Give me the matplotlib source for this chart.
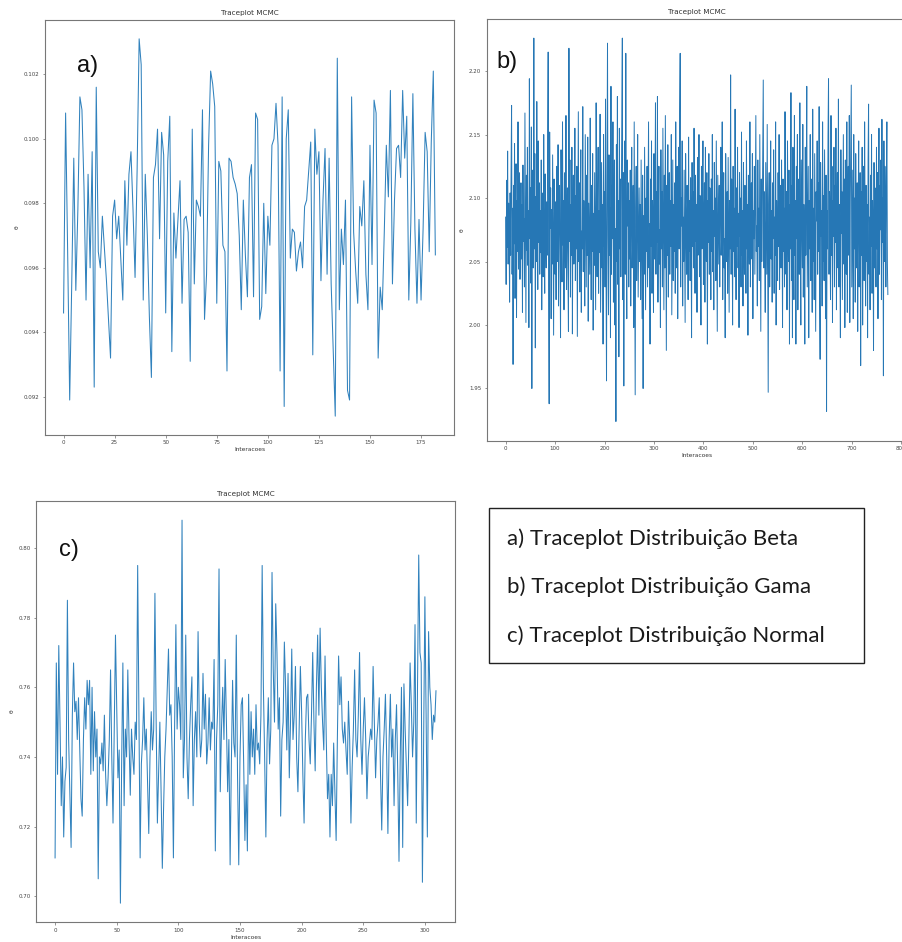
import matplotlib
matplotlib.use("Agg")
import matplotlib.pyplot as plt
from matplotlib.patches import Rectangle

# Beta chain (183 iterations)
beta_chain = [
    0.0946, 0.1008, 0.0965, 0.0919, 0.0955, 0.0994, 0.0953, 0.0978, 0.1013, 0.1009,
    0.0985, 0.0950, 0.0989, 0.0960, 0.0996, 0.0923, 0.1016, 0.0965, 0.0960, 0.0976,
    0.0966, 0.0956, 0.0944, 0.0932, 0.0976, 0.0981, 0.0969, 0.0976, 0.0963, 0.0950,
    0.0987, 0.0967, 0.0989, 0.0996, 0.0978, 0.0957, 0.0990, 0.1031, 0.1023, 0.0950,
    0.0989, 0.0970, 0.0945, 0.0926, 0.0988, 0.0992, 0.1003, 0.0969, 0.1002, 0.0995,
    0.0946, 0.0993, 0.1007, 0.0934, 0.0977, 0.0963, 0.0975, 0.0987, 0.0949, 0.0975,
    0.0976, 0.0971, 0.0931, 0.1003, 0.0955, 0.0981, 0.0979, 0.0976, 0.1009, 0.0944,
    0.0958, 0.0998, 0.1021, 0.1017, 0.1010, 0.0949, 0.0993, 0.0990, 0.0967, 0.0965,
    0.0928, 0.0994, 0.0993, 0.0988, 0.0986, 0.0983, 0.0970, 0.0947, 0.0981, 0.0964,
    0.0951, 0.0988, 0.0992, 0.0951, 0.1008, 0.1006, 0.0944, 0.0948, 0.0980, 0.0952,
    0.0976, 0.0967, 0.0998, 0.1000, 0.1011, 0.0998, 0.0928, 0.1013, 0.0917, 0.1000,
    0.1009, 0.0963, 0.0972, 0.0971, 0.0959, 0.0965, 0.0968, 0.0960, 0.0979, 0.0981,
    0.0990, 0.0999, 0.0933, 0.1003, 0.0989, 0.0996, 0.0956, 0.0981, 0.0997, 0.0958,
    0.0994, 0.0955, 0.0935, 0.0914, 0.1025, 0.0947, 0.0972, 0.0961, 0.0981, 0.0922,
    0.0919, 0.1013, 0.0971, 0.0959, 0.0949, 0.0979, 0.0973, 0.0987, 0.0958, 0.0947,
    0.0998, 0.0961, 0.1012, 0.1008, 0.0932, 0.0954, 0.0947, 0.0971, 0.0998, 0.0982,
    0.1015, 0.0955, 0.0981, 0.0997, 0.0998, 0.0988, 0.1015, 0.0994, 0.1007, 0.0950,
    0.0974, 0.1014, 0.0972, 0.0949, 0.0975, 0.0950, 0.0972, 0.1002, 0.0996, 0.0965,
    0.0999, 0.1021, 0.0964,
]

# Gamma chain (774 iterations)
gamma_chain = [
    2.085, 2.032, 2.114, 2.061, 2.137, 2.048, 2.096, 2.072, 2.018, 2.104, 2.055, 2.123, 2.173, 2.040, 2.092, 1.969, 2.110, 2.064,
    2.143, 2.021, 2.088, 2.127, 2.006, 2.098, 2.058, 2.160, 2.044, 2.081, 2.120, 2.036, 2.070, 2.112, 2.052, 2.095, 2.010, 2.126,
    2.066, 2.084, 2.030, 2.167, 2.075, 2.002, 2.118, 2.059, 2.140, 2.047, 2.090, 1.998, 2.194, 2.068, 2.108, 2.033, 2.156, 1.950,
    2.122, 2.076, 2.045, 2.226, 2.060, 2.135, 1.982, 2.101, 2.050, 2.176, 2.078, 2.028, 2.145, 2.065, 2.112, 2.040, 2.090, 2.057,
    2.130, 2.012, 2.086, 2.104, 2.038, 2.150, 2.068, 2.025, 2.119, 2.074, 2.045, 2.097, 2.055, 2.148, 2.215, 2.030, 1.938, 2.152,
    2.076, 2.108, 2.005, 2.091, 2.048, 2.134, 2.062, 1.992, 2.115, 2.083, 2.040, 2.097, 2.020, 2.125, 2.070, 2.050, 2.142, 2.015,
    2.088, 2.110, 2.058, 1.990, 2.138, 2.072, 2.034, 2.160, 2.063, 2.098, 2.012, 2.120, 2.082, 2.045, 2.165, 2.028, 2.075, 2.108,
    2.040, 1.995, 2.218, 2.066, 2.130, 2.022, 2.095, 2.055, 2.140, 1.993, 2.086, 2.118, 2.048, 2.070, 2.155, 2.035, 2.102, 2.060,
    2.125, 1.991, 2.080, 2.168, 2.050, 2.112, 2.026, 2.092, 2.138, 2.010, 2.074, 2.060, 2.172, 2.042, 2.098, 2.066, 2.015, 2.150,
    2.085, 2.030, 2.118, 2.055, 2.148, 2.003, 2.096, 2.070, 2.040, 2.163, 2.078, 2.020, 2.110, 2.058, 2.135, 1.996, 2.088, 2.047,
    2.120, 2.065, 2.012, 2.175, 2.082, 2.038, 2.100, 2.140, 2.025, 2.090, 2.057, 2.166, 2.010, 2.072, 2.128, 2.045, 2.095, 1.985,
    2.150, 2.062, 2.105, 2.030, 2.178, 2.045, 1.956, 2.118, 2.222, 2.070, 2.008, 2.134, 2.055, 2.092, 1.990, 2.188, 2.040, 2.110,
    2.068, 2.160, 2.018, 2.085, 2.130, 2.000, 2.076, 1.924, 2.142, 2.050, 2.180, 2.032, 2.098, 1.975, 2.155, 2.060, 2.115, 2.038,
    2.092, 2.170, 2.226, 2.020, 2.120, 1.952, 2.085, 2.145, 2.040, 2.214, 2.065, 2.005, 2.130, 2.078, 2.112, 2.030, 2.098, 2.052,
    2.122, 2.015, 2.088, 2.140, 2.045, 2.072, 2.110, 1.998, 2.160, 2.060, 1.945, 2.092, 2.125, 2.035, 2.080, 2.150, 2.022, 2.070,
    2.108, 2.050, 2.095, 2.020, 2.130, 2.064, 2.005, 2.118, 1.950, 2.086, 2.040, 2.140, 2.075, 2.012, 2.100, 2.058, 2.125, 2.030,
    2.090, 2.160, 2.045, 2.080, 1.985, 2.115, 2.062, 2.145, 2.025, 2.098, 2.070, 2.010, 2.135, 2.052, 2.088, 2.175, 2.040, 2.105,
    2.065, 2.180, 2.018, 2.092, 2.125, 2.048, 2.075, 1.998, 2.138, 2.060, 2.105, 2.030, 2.155, 2.082, 2.012, 2.118, 2.045, 2.165,
    2.070, 1.980, 2.110, 2.055, 2.142, 2.022, 2.088, 2.120, 2.040, 2.098, 2.062, 2.150, 2.008, 2.076, 2.130, 2.035, 2.095, 2.058,
    2.112, 2.025, 2.160, 2.070, 2.045, 2.125, 2.005, 2.090, 2.140, 2.060, 2.168, 2.214, 2.030, 2.100, 2.078, 2.145, 2.015, 2.085,
    2.050, 2.122, 2.068, 2.002, 2.135, 2.076, 2.040, 2.110, 2.090, 2.020, 2.148, 2.058, 2.098, 2.035, 2.116, 2.072, 1.990, 2.128,
    2.062, 2.105, 2.045, 2.155, 2.080, 2.025, 2.118, 2.066, 2.095, 2.010, 2.132, 2.055, 2.088, 2.150, 2.038, 2.102, 2.070, 2.000,
    2.125, 2.060, 2.092, 2.145, 2.032, 2.085, 2.112, 2.018, 2.140, 2.074, 2.050, 2.120, 1.985, 2.098, 2.065, 2.135, 2.040, 2.108,
    2.078, 2.020, 2.115, 2.058, 2.150, 2.042, 2.090, 2.012, 2.128, 2.070, 2.100, 2.035, 2.145, 2.062, 1.995, 2.118, 2.082, 2.048,
    2.110, 2.030, 2.095, 2.140, 2.055, 2.075, 2.160, 2.020, 2.088, 2.120, 2.045, 2.068, 1.990, 2.135, 2.080, 2.050, 2.105, 2.025,
    2.132, 2.070, 2.010, 2.098, 2.060, 2.197, 2.040, 2.115, 2.082, 2.000, 2.125, 2.058, 2.092, 2.038, 2.170, 2.075, 2.020, 2.108,
    2.062, 2.140, 2.045, 2.088, 1.998, 2.120, 2.070, 2.100, 2.030, 2.152, 2.055, 2.090, 2.015, 2.128, 2.068, 2.040, 2.110, 2.080,
    2.025, 2.145, 2.060, 2.095, 1.992, 2.118, 2.075, 2.048, 2.160, 2.030, 2.085, 2.112, 2.052, 2.135, 2.005, 2.090, 2.068, 2.125,
    2.040, 2.100, 2.165, 2.058, 2.078, 2.015, 2.130, 2.062, 2.092, 2.035, 2.150, 2.070, 1.995, 2.115, 2.050, 2.082, 2.140, 2.193,
    2.045, 2.105, 2.065, 2.010, 2.128, 2.080, 2.040, 2.158, 2.060, 1.947, 2.095, 2.120, 2.030, 2.075, 2.145, 2.052, 2.090, 2.018,
    2.112, 2.068, 2.138, 2.025, 2.085, 2.055, 2.160, 2.000, 2.098, 2.072, 2.035, 2.120, 2.062, 2.150, 2.028, 2.088, 2.110, 2.045,
    2.130, 2.075, 1.998, 2.115, 2.058, 2.092, 2.030, 2.168, 2.070, 2.040, 2.105, 2.012, 2.145, 2.080, 2.050, 2.122, 1.985, 2.095,
    2.060, 2.183, 2.035, 2.110, 1.990, 2.140, 2.072, 2.020, 2.165, 2.055, 2.098, 1.985, 2.125, 2.068, 2.150, 2.012, 2.088, 2.115,
    2.040, 2.175, 2.062, 2.000, 2.130, 2.085, 2.045, 2.158, 2.022, 2.095, 2.070, 1.985, 2.140, 2.055, 2.110, 2.188, 2.030, 2.080,
    2.125, 1.990, 2.098, 2.060, 2.150, 2.035, 2.115, 2.075, 2.010, 2.170, 2.050, 2.092, 2.020, 2.135, 2.068, 1.995, 2.105, 2.082,
    2.145, 2.040, 2.112, 2.058, 2.172, 2.025, 1.973, 2.128, 2.070, 2.090, 2.015, 2.160, 2.050, 2.102, 2.035, 2.138, 2.078, 2.005,
    2.118, 1.932, 2.090, 2.060, 2.150, 2.194, 2.040, 2.105, 2.075, 2.020, 2.165, 2.055, 2.125, 2.002, 2.098, 2.070, 2.140, 2.030,
    2.110, 2.065, 2.155, 2.012, 2.088, 2.120, 2.045, 2.178, 2.030, 2.095, 2.060, 1.990, 2.138, 2.072, 2.105, 2.020, 2.085, 2.150,
    2.048, 2.115, 1.998, 2.130, 2.070, 2.040, 2.160, 2.010, 2.092, 2.125, 2.055, 2.165, 2.002, 2.098, 2.140, 2.189, 2.030, 2.080,
    2.122, 2.005, 2.150, 2.060, 2.100, 2.018, 2.135, 2.075, 2.045, 2.112, 1.995, 2.090, 2.145, 2.030, 2.068, 2.120, 1.968, 2.105,
    2.055, 2.140, 2.000, 2.088, 2.125, 2.035, 2.160, 2.070, 2.015, 2.110, 2.050, 2.095, 1.990, 2.130, 2.174, 2.040, 2.085, 2.012,
    2.118, 2.062, 2.150, 2.025, 2.098, 2.070, 1.980, 2.128, 2.045, 2.108, 2.080, 2.030, 2.140, 2.060, 2.120, 2.005, 2.092, 2.155,
    2.040, 2.110, 2.075, 2.130, 2.020, 2.162, 2.065, 2.100, 1.960, 2.145, 2.050, 2.125, 2.085, 2.030, 2.115, 2.160, 2.048, 2.024,
]

# Normal chain (310 iterations)
normal_chain = [
    0.711, 0.767, 0.735, 0.772, 0.750, 0.726, 0.740, 0.717, 0.733, 0.737,
    0.785, 0.745, 0.730, 0.714, 0.752, 0.767, 0.753, 0.756, 0.745, 0.757,
    0.742, 0.728, 0.723, 0.745, 0.757, 0.748, 0.762, 0.755, 0.762, 0.735,
    0.760, 0.736, 0.753, 0.740, 0.748, 0.705, 0.740, 0.738, 0.744, 0.736,
    0.752, 0.735, 0.726, 0.734, 0.745, 0.765, 0.740, 0.721, 0.748, 0.775,
    0.755, 0.734, 0.742, 0.698, 0.738, 0.767, 0.726, 0.748, 0.740, 0.765,
    0.745, 0.729, 0.748, 0.740, 0.735, 0.750, 0.745, 0.795, 0.752, 0.711,
    0.738, 0.745, 0.757, 0.742, 0.748, 0.733, 0.718, 0.740, 0.753, 0.742,
    0.748, 0.787, 0.750, 0.721, 0.735, 0.750, 0.730, 0.708, 0.725, 0.740,
    0.748, 0.760, 0.771, 0.752, 0.755, 0.740, 0.711, 0.750, 0.778, 0.748,
    0.760, 0.755, 0.745, 0.808, 0.734, 0.745, 0.775, 0.740, 0.728, 0.745,
    0.755, 0.763, 0.726, 0.745, 0.753, 0.740, 0.776, 0.750, 0.740, 0.745,
    0.764, 0.748, 0.758, 0.738, 0.744, 0.757, 0.742, 0.750, 0.748, 0.768,
    0.713, 0.745, 0.755, 0.794, 0.730, 0.748, 0.760, 0.745, 0.768, 0.750,
    0.730, 0.745, 0.709, 0.738, 0.762, 0.744, 0.740, 0.775, 0.735, 0.709,
    0.740, 0.755, 0.757, 0.738, 0.716, 0.732, 0.713, 0.758, 0.735, 0.753,
    0.740, 0.748, 0.735, 0.755, 0.742, 0.744, 0.738, 0.752, 0.795, 0.760,
    0.740, 0.717, 0.745, 0.757, 0.738, 0.748, 0.793, 0.765, 0.750, 0.784,
    0.770, 0.748, 0.757, 0.723, 0.745, 0.750, 0.773, 0.760, 0.742, 0.764,
    0.734, 0.750, 0.771, 0.745, 0.752, 0.766, 0.740, 0.730, 0.748, 0.766,
    0.753, 0.735, 0.721, 0.745, 0.757, 0.758, 0.745, 0.738, 0.752, 0.770,
    0.750, 0.736, 0.760, 0.775, 0.752, 0.777, 0.760, 0.750, 0.742, 0.769,
    0.745, 0.728, 0.735, 0.717, 0.735, 0.726, 0.744, 0.730, 0.716, 0.745,
    0.769, 0.755, 0.763, 0.748, 0.744, 0.750, 0.742, 0.735, 0.756, 0.745,
    0.721, 0.737, 0.748, 0.765, 0.745, 0.740, 0.752, 0.770, 0.745, 0.735,
    0.748, 0.757, 0.745, 0.728, 0.740, 0.744, 0.748, 0.745, 0.766, 0.750,
    0.734, 0.745, 0.750, 0.757, 0.735, 0.719, 0.740, 0.748, 0.758, 0.740,
    0.718, 0.745, 0.758, 0.740, 0.748, 0.726, 0.745, 0.755, 0.735, 0.710,
    0.740, 0.760, 0.714, 0.761, 0.748, 0.737, 0.726, 0.745, 0.767, 0.755,
    0.740, 0.750, 0.778, 0.721, 0.760, 0.798, 0.770, 0.767, 0.704, 0.745,
    0.786, 0.750, 0.717, 0.776, 0.760, 0.755, 0.745, 0.752, 0.750, 0.759,
]

panel_tags = ["a)", "b)", "c)"]
caption_lines = [
    "a) Traceplot Distribuição Beta",
    "b) Traceplot Distribuição Gama",
    "c) Traceplot Distribuição Normal",
]

fig = plt.figure(figsize=(9.03, 9.42), dpi=100)


def trace(rect, chain, tag, tag_pos, lw, color):
    ax = fig.add_axes(rect)
    ax.plot(range(len(chain)), chain, color=color, lw=lw)
    ax.set_title("Traceplot MCMC", fontsize=5.2, pad=3.5, color="#333333")
    ax.set_xlabel("Interacoes", fontsize=4.2, labelpad=1.5, color="#333333")
    ax.set_ylabel("θ", fontsize=4.2, labelpad=3, color="#333333")
    ax.tick_params(labelsize=4, length=1.8, width=0.4, pad=2,
                   colors="#444444")
    for s in ax.spines.values():
        s.set_linewidth(0.8)
        s.set_color("#777777")
    ax.text(tag_pos[0], tag_pos[1], tag, transform=ax.transAxes,
            fontsize=17, family="Liberation Sans", va="baseline",
            color="#111111")
    return ax


ax_a = trace([0.0498, 0.5382, 0.4529, 0.4406], beta_chain, panel_tags[0],
             (0.078, 0.875), 0.75, "#3182bd")
ax_a.set_yticks([0.092, 0.094, 0.096, 0.098, 0.100, 0.102])

ax_b = trace([0.5388, 0.5322, 0.4656, 0.4477], gamma_chain, panel_tags[1],
             (0.024, 0.884), 0.7, "#2677b5")
ax_b.set_yticks([1.95, 2.00, 2.05, 2.10, 2.15, 2.20])

ax_c = trace([0.0399, 0.0209, 0.4640, 0.4472], normal_chain, panel_tags[2],
             (0.055, 0.869), 0.75, "#3182bd")
ax_c.set_yticks([0.70, 0.72, 0.74, 0.76, 0.78, 0.80])

# legend box for the three panels
fig.patches.append(Rectangle((0.5415, 0.2962), 0.4153, 0.1645,
                             transform=fig.transFigure, fill=False,
                             edgecolor="#222222", lw=1.0))
for line, yb in zip(caption_lines, [0.4214, 0.3702, 0.3188]):
    fig.text(0.561, yb, line, fontsize=16, family="Lato",
             va="baseline", color="#1a1a1a")

fig.savefig("out.png", dpi=100)
